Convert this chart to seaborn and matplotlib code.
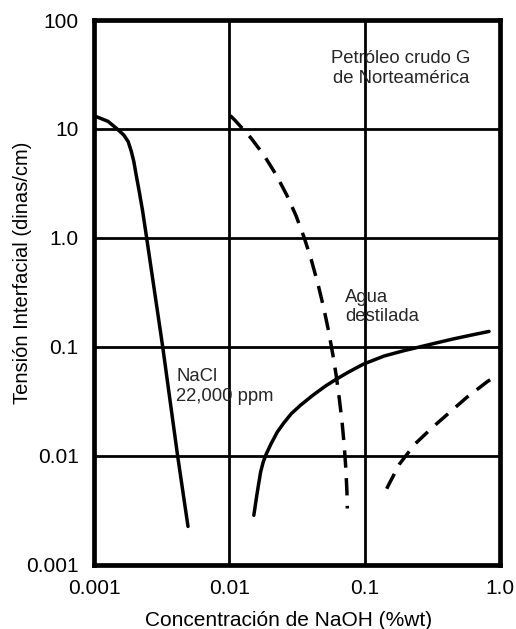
import numpy as np
import pandas as pd
import matplotlib
matplotlib.use("Agg")
import matplotlib.pyplot as plt
from matplotlib.ticker import FixedLocator, FixedFormatter, NullLocator
import seaborn as sns

# NaOH concentration (%wt) and interfacial tension (dinas/cm)
nacl_x = [0.00102, 0.00127, 0.00147, 0.00166, 0.00179, 0.00189, 0.00197,
          0.00205, 0.00216, 0.00229, 0.00245, 0.00322, 0.00415, 0.00495]
nacl_y = [13.1, 11.75, 10.1, 8.81, 7.64, 6.19, 5.01, 3.78, 2.66, 1.75, 1.0,
          0.100, 0.0100, 0.00226]

agua_dash_x = [0.01016, 0.01102, 0.01439, 0.01799, 0.02223, 0.02655, 0.03112,
               0.03581, 0.04027, 0.04508, 0.04977, 0.05408, 0.05821, 0.06152,
               0.06494, 0.06808, 0.07063, 0.07261, 0.07396, 0.07447]
agua_dash_y = [13.27, 12.0, 8.32, 5.77, 3.78, 2.48, 1.60, 1.0, 0.634, 0.382,
               0.230, 0.1406, 0.0849, 0.0555, 0.0337, 0.0205, 0.01245, 0.00762,
               0.00468, 0.00330]

agua_solid_x = [0.01517, 0.01556, 0.01596, 0.01641, 0.01702, 0.01778, 0.01875,
                0.02032, 0.02259, 0.02518, 0.02873, 0.03373, 0.04169, 0.05164,
                0.06067, 0.07499, 0.09795, 0.1390, 0.1972, 0.2495, 0.3342,
                0.4477, 0.6012, 0.8299]
agua_solid_y = [0.00286, 0.00353, 0.00436, 0.00540, 0.00711, 0.00877, 0.01044,
                0.01291, 0.01656, 0.0200, 0.02449, 0.02938, 0.03631, 0.04406,
                0.0500, 0.05834, 0.06966, 0.0826, 0.0929, 0.0995, 0.1086,
                0.1183, 0.1279, 0.1390]

right_dash_x = [0.1455, 0.1517, 0.1811, 0.2357, 0.3150, 0.4223, 0.5664, 0.8054, 0.8790]
right_dash_y = [0.00501, 0.00556, 0.00846, 0.01291, 0.01816, 0.0250, 0.0344,
                0.0481, 0.0516]

x_ticks = [0.001, 0.01, 0.1, 1.0]
x_tick_labels = ["0.001", "0.01", "0.1", "1.0"]
y_ticks = [0.001, 0.01, 0.1, 1.0, 10, 100]
y_tick_labels = ["0.001", "0.01", "0.1", "1.0", "10", "100"]

sns.set_theme(style="white")
plt.rcParams["font.family"] = ["Liberation Sans", "DejaVu Sans"]

fig = plt.figure(figsize=(5.16, 6.29), dpi=100)
W, H = 516, 629
left, right, top, bottom = 94, 500, 20, 565
ax = fig.add_axes([left / W, 1 - bottom / H, (right - left) / W, (bottom - top) / H])

ax.set_xscale("log")
ax.set_yscale("log")
ax.set_xlim(0.001, 1.0)
ax.set_ylim(0.001, 100)

# decade grid
for v in x_ticks[1:-1]:
    ax.axvline(v, color="black", lw=2.0, zorder=1)
for v in y_ticks[1:-1]:
    ax.axhline(v, color="black", lw=2.0, zorder=1)

lw = 2.5
sns.lineplot(x=nacl_x, y=nacl_y, ax=ax, color="black", lw=lw,
             sort=False, estimator=None, zorder=3)
sns.lineplot(x=agua_solid_x, y=agua_solid_y, ax=ax, color="black", lw=lw,
             sort=False, estimator=None, zorder=3)
sns.lineplot(x=agua_dash_x, y=agua_dash_y, ax=ax, color="black", lw=lw,
             linestyle=(0, (5.0, 3.0)), sort=False, estimator=None, zorder=3)
sns.lineplot(x=right_dash_x, y=right_dash_y, ax=ax, color="black", lw=lw,
             linestyle=(0, (4.8, 3.0)), sort=False, estimator=None, zorder=3)
for ln in ax.get_lines():
    ln.set_solid_joinstyle("round")
    ln.set_dash_joinstyle("round")

ax.xaxis.set_major_locator(FixedLocator(x_ticks))
ax.xaxis.set_major_formatter(FixedFormatter(x_tick_labels))
ax.yaxis.set_major_locator(FixedLocator(y_ticks))
ax.yaxis.set_major_formatter(FixedFormatter(y_tick_labels))
ax.xaxis.set_minor_locator(NullLocator())
ax.yaxis.set_minor_locator(NullLocator())
ax.tick_params(axis="both", length=0, labelsize=15, colors="black")
ax.tick_params(axis="x", pad=10)
ax.tick_params(axis="y", pad=11)

for s in ax.spines.values():
    s.set_visible(True)
    s.set_color("black")
    s.set_linewidth(3.4)
    s.set_zorder(4)

ax.set_xlabel("Concentración de NaOH (%wt)", fontsize=15, color="black")
ax.set_ylabel("Tensión Interfacial (dinas/cm)", fontsize=14.5, color="black")
ax.xaxis.set_label_coords(0.478, -0.101)
ax.yaxis.set_label_coords(-0.177, 0.536)
ax.xaxis.label.set_va("center")
ax.yaxis.label.set_va("center")

fs = 13.3
ax.text(0.756, 0.911, "Petróleo crudo G\nde Norteamérica", transform=ax.transAxes,
        ha="center", va="center", fontsize=fs, linespacing=1.2, zorder=2)
ax.text(0.618, 0.473, "Agua\ndestilada", transform=ax.transAxes,
        ha="left", va="center", fontsize=fs, linespacing=1.15, zorder=2)
ax.text(0.202, 0.328, "NaCl\n22,000 ppm", transform=ax.transAxes,
        ha="left", va="center", fontsize=fs, linespacing=1.2, zorder=2)

fig.savefig("out.png", dpi=100)
